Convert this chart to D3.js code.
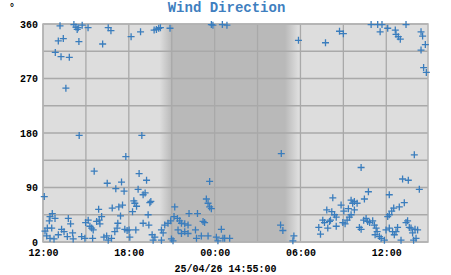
<!DOCTYPE html>
<meta charset="utf-8">
<title>Wind Direction</title>
<style>
  body { margin: 0; background: #fff; }
  text { font-family: "Courier New", "Liberation Mono", monospace; font-weight: bold; }
</style>
<body>
<script src="https://cdnjs.cloudflare.com/ajax/libs/d3/7.8.5/d3.min.js"></script>
<script type="text/javascript">

var startTime = new Date(2026, 3, 24, 12, 0);
var endTime = new Date(2026, 3, 25, 14, 55);
var stampLabel = "25/04/26 14:55:00";

// twilight edges: dusk start, dark, dawn start, light
var nightBand = [new Date(2026, 3, 24, 20, 10), new Date(2026, 3, 24, 21, 0),
                 new Date(2026, 3, 25, 4, 55), new Date(2026, 3, 25, 5, 50)];

var yTicks = [0, 90, 180, 270, 360];
var yGrid = [45, 135, 225, 315];

// hours after 24/04 12:00, and direction in degrees
var hoursSinceStart = [
  1.19, 2.16, 2.30, 2.39, 2.46, 2.74, 3.15, 1.07, 1.42, 2.51,
  0.86, 1.26, 1.84, 1.60, 2.53, 4.17, 4.56, 4.75, 6.16, 6.82,
  7.77, 7.93, 8.09, 8.21, 8.88, 6.91, 11.77, 11.88, 12.54, 12.86,
  17.86, 19.75, 20.73, 21.00, 22.94, 23.40, 23.70, 23.57, 24.10, 24.63,
  24.68, 24.84, 24.98, 25.38, 26.43, 26.54, 26.73, 26.43, 26.61, 26.80,
  0.09, 3.58, 5.79, 4.49, 5.49, 6.72, 5.09, 5.67, 7.24, 6.65,
  7.14, 7.00, 3.89, 4.84, 5.30, 5.56, 6.35, 6.42, 6.26, 6.54,
  7.54, 7.47, 7.35, 5.42, 9.21, 11.42, 11.54, 11.65, 11.77, 11.65,
  10.21, 10.80,
  0.65, 0.49, 0.84, 0.44, 0.30, 0.14, 0.61, 0.26, 0.49, 0.77,
  1.07, 1.30, 1.47, 1.77, 1.93, 2.07, 1.70, 2.11, 2.70, 2.93,
  2.98, 3.16, 3.40, 3.28, 3.51, 3.47, 3.75, 3.93, 4.10, 3.98,
  4.26, 4.45, 4.56, 4.79, 5.02, 5.18, 5.23, 5.72, 5.88, 6.07,
  6.02, 6.49,
  9.16, 9.40, 9.56, 9.68, 9.91, 10.14, 8.93, 8.74, 8.51, 8.28,
  8.40, 9.91, 10.14, 10.66, 11.19, 11.30, 12.47, 11.07, 11.54, 12.12,
  12.23, 12.58, 13.05, 7.63, 7.82, 7.70, 8.28, 8.98, 9.09, 10.73,
  9.44, 9.68, 7.00, 7.40, 12.70,
  16.66, 16.61, 16.77, 17.54, 17.47, 25.96, 22.24, 25.14, 25.54, 26.31,
  22.75, 24.21, 22.47, 20.26, 21.54, 21.77, 21.96, 21.65, 20.84, 21.35,
  21.03, 21.77, 25.26, 24.91, 24.52, 24.38, 24.21, 24.10, 19.84, 20.19,
  20.38, 20.50, 19.56, 19.68, 20.03, 20.10, 19.28, 19.40, 19.91, 20.50,
  20.96, 21.12, 21.26, 21.42, 21.54, 22.12, 22.24, 22.42, 22.59, 22.70,
  22.84, 23.05, 23.17, 23.29, 23.36, 23.52, 23.22, 23.64, 23.87, 23.98,
  24.21, 24.68, 24.79, 25.03, 25.38, 25.49, 25.61, 25.73, 25.84, 26.01,
  26.19, 25.91, 26.08, 24.44, 24.56
];
var windDir = [
  357, 359, 355, 351, 354, 358, 354, 332, 336, 331,
  313, 306, 305, 254, 176, 327, 354, 349, 339, 347,
  350, 351, 353, 354, 353, 176, 359, 358, 359, 358,
  333, 329, 348, 344, 359, 359, 359, 347, 353, 350,
  343, 339, 335, 359, 347, 340, 326, 317, 288, 280,
  75, 117, 141, 97, 99, 113, 88, 84, 102, 87,
  81, 78, 54, 56, 58, 61, 68, 64, 50, 59,
  67, 65, 45, 43, 58, 71, 64, 58, 55, 100,
  47, 47,
  47, 42, 39, 35, 23, 18, 23, 10, 6, 5,
  12, 21, 17, 39, 30, 15, 9, 5, 9, 6,
  32, 36, 23, 26, 20, 6, 34, 36, 42, 30,
  8, 10, 3, 6, 17, 23, 31, 21, 19, 8,
  20, 20,
  42, 39, 35, 31, 30, 28, 35, 31, 28, 20,
  15, 17, 14, 20, 34, 32, 21, 10, 10, 8,
  2, 6, 6, 12, 8, 3, 3, 5, 2, 6,
  20, 14, 31, 28, 6,
  146, 28, 19, 10, 2, 144, 123, 104, 102, 87,
  83, 78, 71, 73, 69, 67, 64, 64, 61, 55,
  51, 53, 65, 58, 56, 51, 45, 42, 53, 50,
  45, 41, 36, 32, 34, 36, 24, 13, 23, 26,
  32, 30, 36, 41, 45, 24, 21, 36, 39, 34,
  32, 35, 28, 23, 17, 9, 12, 6, 3, 20,
  23, 17, 24, 3, 32, 35, 24, 23, 15, 21,
  20, 3, 6, 17, 12
];

var width = 451, height = 275;
var margin = {left: 43, right: 23, top: 24, bottom: 33};

var svg = d3.select("body").append("svg")
    .attr("width", width)
    .attr("height", height);

var x = d3.scaleTime()
    .domain([startTime, endTime])
    .range([margin.left, width - margin.right]);
var y = d3.scaleLinear()
    .domain([0, 360])
    .range([height - margin.bottom, margin.top]);

// day / night background
var grad = svg.append("defs").append("linearGradient")
    .attr("id", "night")
    .attr("gradientUnits", "userSpaceOnUse")
    .attr("x1", x.range()[0]).attr("x2", x.range()[1])
    .attr("y1", 0).attr("y2", 0);
var span = x.range()[1] - x.range()[0];
var stops = [["#dddddd", nightBand[0]], ["#b9b9b9", nightBand[1]],
             ["#b9b9b9", nightBand[2]], ["#dddddd", nightBand[3]]];
stops.forEach(function(s) {
  grad.append("stop")
    .attr("offset", (x(s[1]) - x.range()[0]) / span)
    .attr("stop-color", s[0]);
});

svg.append("rect")
    .attr("x", x.range()[0])
    .attr("y", y(360))
    .attr("width", span)
    .attr("height", y(0) - y(360))
    .attr("fill", "url(#night)");

// grid
var grid = svg.append("g")
    .attr("stroke", "#a9a9a9")
    .attr("stroke-width", 1.3);
grid.selectAll(".vg")
    .data(d3.timeHour.every(3).range(startTime, endTime))
    .enter().append("line")
    .attr("x1", function(d) { return x(d); })
    .attr("x2", function(d) { return x(d); })
    .attr("y1", y(0)).attr("y2", y(360));
grid.selectAll(".hg")
    .data(yTicks.concat(yGrid))
    .enter().append("line")
    .attr("x1", x.range()[0]).attr("x2", x.range()[1])
    .attr("y1", function(d) { return y(d); })
    .attr("y2", function(d) { return y(d); });

svg.append("rect")
    .attr("x", x.range()[0])
    .attr("y", y(360))
    .attr("width", span)
    .attr("height", y(0) - y(360))
    .attr("fill", "none")
    .attr("stroke", "#b4b4b4")
    .attr("stroke-width", 1.5);

// axes (labels only)
var xAxis = d3.axisBottom(x)
    .ticks(d3.timeHour.every(6))
    .tickFormat(d3.timeFormat("%H:%M"))
    .tickSize(0).tickPadding(7);
var gx = svg.append("g")
    .attr("transform", "translate(0," + y(0) + ")")
    .call(xAxis);
gx.select(".domain").remove();
gx.selectAll("text").attr("font-size", 10).attr("fill", "#000")
    .attr("font-family", null);

var yAxis = d3.axisLeft(y)
    .tickValues(yTicks)
    .tickSize(0).tickPadding(5);
var gy = svg.append("g")
    .attr("transform", "translate(" + x.range()[0] + ",0)")
    .call(yAxis);
gy.select(".domain").remove();
gy.selectAll("text").attr("font-size", 10).attr("fill", "#000")
    .attr("font-family", null);

svg.append("text")
    .attr("x", width / 2 + 1)
    .attr("y", 12)
    .attr("text-anchor", "middle")
    .attr("font-size", 14)
    .attr("fill", "#3f7fbf")
    .text("Wind Direction");

svg.append("text")
    .attr("x", 12)
    .attr("y", 11)
    .attr("text-anchor", "middle")
    .attr("font-size", 10)
    .attr("font-weight", "normal")
    .text("°");

svg.append("text")
    .attr("x", width / 2)
    .attr("y", 272)
    .attr("text-anchor", "middle")
    .attr("font-size", 10)
    .text(stampLabel);

// points as + markers
var cross = d3.symbol().type(d3.symbolCross);
svg.append("g")
    .selectAll("path")
    .data(hoursSinceStart)
    .enter().append("path")
    .attr("d", "M-3.5,0H3.5M0,-3.5V3.5")
    .attr("transform", function(h, i) {
      var t = new Date(startTime.getTime() + h * 3600e3);
      return "translate(" + x(t) + "," + y(windDir[i]) + ")";
    })
    .attr("stroke", "#3a7dbd")
    .attr("stroke-width", 1.3)
    .attr("fill", "none");

</script>
